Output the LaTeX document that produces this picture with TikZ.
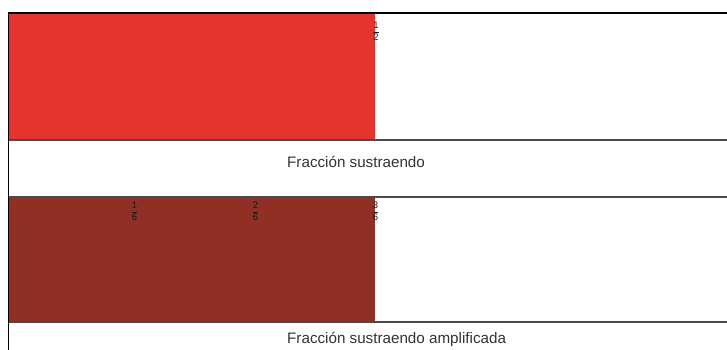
\documentclass[tikz,border=0pt]{standalone}
\usepackage{fontspec}
\setmainfont{Liberation Sans}
\definecolor{barred}{HTML}{E5342E}
\definecolor{bardark}{HTML}{8F2F25}
\definecolor{sepgray}{HTML}{4A4A4A}
\newcommand{\smallfrac}[2]{$\displaystyle\frac{\mbox{\fontsize{9.5}{9.5}\selectfont #1}}{\mbox{\fontsize{9.5}{9.5}\selectfont #2}}$}
\tikzset{
  caption/.style={anchor=base west, inner sep=0pt, font=\fontsize{15.2}{15.2}\selectfont, text=black!80},
  fraclabel/.style={inner sep=0pt, text=black!90, font=\fontsize{9.5}{9.5}\selectfont},
  sepline/.style={draw=sepgray, line width=2pt},
}
\begin{document}
\begin{tikzpicture}[x=1pt,y=-1pt]
\useasboundingbox (0,0) rectangle (727,350);
% bars
\fill[barred] (8,13) rectangle (375,138.5);
\fill[bardark] (8,196.5) rectangle (375,321);
% separators
\draw[sepline] (8,139.5) -- (727,139.5);
\draw[sepline] (8,196.5) -- (727,196.5);
\draw[sepline] (8,322) -- (727,322);
\draw[black, line width=2pt] (8,13.5) -- (727,13.5);
\draw[black, line width=1.2pt] (8.5,13) -- (8.5,350);
% fraction labels
\node[fraclabel] (half) at (376,31) {\smallfrac{1}{2}};
\node[fraclabel] (sixA) at (134.5,211.5) {\smallfrac{1}{6}};
\node[fraclabel] (sixB) at (255.5,211.5) {\smallfrac{2}{6}};
\node[fraclabel] (sixC) at (375.5,211.5) {\smallfrac{3}{6}};
% captions
\node[caption] (capA) at (287,167) {Fracción sustraendo};
\node[caption] (capB) at (287,343) {Fracción sustraendo amplificada};
\end{tikzpicture}
\end{document}
